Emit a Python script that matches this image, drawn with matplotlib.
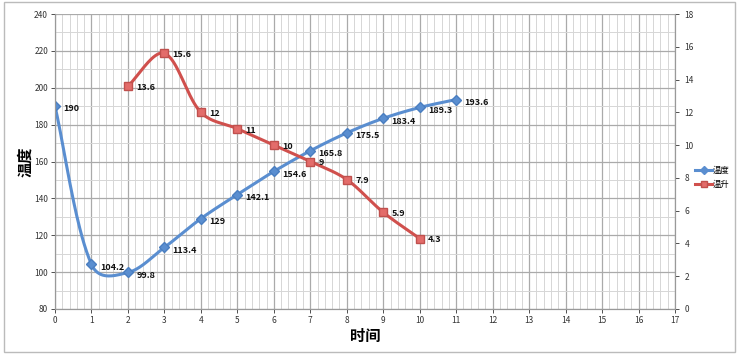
import numpy as np
import matplotlib
matplotlib.use("Agg")
import matplotlib.pyplot as plt
from matplotlib.lines import Line2D
from matplotlib.patches import Rectangle

plt.rcParams['font.family'] = ['Noto Sans CJK SC', 'DejaVu Sans']

# data
temp_x = [0, 1, 2, 3, 4, 5, 6, 7, 8, 9, 10, 11]
temp_y = [190, 104.2, 99.8, 113.4, 129, 142.1, 154.6, 165.8, 175.5, 183.4, 189.3, 193.6]
rise_x = [2, 3, 4, 5, 6, 7, 8, 9, 10]
rise_y = [13.6, 15.6, 12, 11, 10, 9, 7.9, 5.9, 4.3]
temp_name = "温度"
rise_name = "温升"
x_label = "时间"
y_label = "温度"

BLUE = "#5A8ED0"
RED = "#D0504D"


def smooth(xs, ys, sx, sy, n=40, mix=0.4):
    """Excel-like smoothing: Bezier with tangent (P[i+1]-P[i-1]), control distance a blend of
    uniform Catmull-Rom and chord-length scaling, computed in screen-proportional space."""
    P = np.column_stack([np.asarray(xs, float) * sx, np.asarray(ys, float) * sy])
    m = len(P)
    out = []
    t = np.linspace(0, 1, n)[:, None]
    for i in range(m - 1):
        p1, p2 = P[i], P[i + 1]
        p0 = P[i - 1] if i > 0 else p1
        p3 = P[i + 2] if i + 2 < m else p2
        d01 = np.linalg.norm(p1 - p0)
        d12 = np.linalg.norm(p2 - p1)
        d23 = np.linalg.norm(p3 - p2)
        f1 = d12 / (d01 + d12) if (d01 + d12) > 0 else 0
        f2 = d12 / (d12 + d23) if (d12 + d23) > 0 else 0
        f1 = mix * 0.5 + (1 - mix) * f1
        f2 = mix * 0.5 + (1 - mix) * f2
        c1 = p1 + (p2 - p0) * f1 / 3
        c2 = p2 - (p3 - p1) * f2 / 3
        seg = ((1 - t) ** 3) * p1 + 3 * ((1 - t) ** 2) * t * c1 + 3 * (1 - t) * t ** 2 * c2 + t ** 3 * p2
        out.append(seg if i == 0 else seg[1:])
    a = np.vstack(out)
    return a[:, 0] / sx, a[:, 1] / sy


fig = plt.figure(figsize=(7.39, 3.55), dpi=100)
fig.patches.append(Rectangle((0.005, 0.008), 0.99, 0.985, transform=fig.transFigure,
                             fill=False, edgecolor="#BBBBBB", linewidth=1.0))
ax = fig.add_axes([55 / 739, 1 - 309 / 355, 620 / 739, 295 / 355])
ax2 = ax.twinx()

ax.set_xlim(0, 17)
ax.set_ylim(80, 240)
ax2.set_ylim(0, 18)
ax.set_xticks(range(0, 18))
ax.set_xticks(np.arange(0, 17.01, 0.2), minor=True)
ax.set_yticks(range(80, 241, 20))
ax.set_yticks(range(80, 241, 10), minor=True)
ax2.set_yticks(range(0, 19, 2))

ax.grid(which='major', color="#AAAAAA", linewidth=0.9)
ax.grid(which='minor', color="#D6D6D6", linewidth=0.7)
ax.set_axisbelow(True)
ax.tick_params(axis='both', which='minor', length=0)
ax.tick_params(axis='both', which='major', labelsize=6, colors="#333333", length=3, width=0.6,
               pad=2)
ax2.tick_params(axis='y', labelsize=6, colors="#333333", length=3, width=0.6, pad=4)
for a in (ax, ax2):
    for s in a.spines.values():
        s.set_color("#999999")
        s.set_linewidth(0.8)
    a.spines['top'].set_visible(False)

ax.set_xlabel(x_label, fontsize=11, fontweight='bold', labelpad=2)
ax.set_ylabel(y_label, fontsize=11, fontweight='bold', labelpad=1)

pxx = 620 / 17
pxl = 295 / 160
pxr = 295 / 18

sx, sy = smooth(temp_x, temp_y, pxx, pxl)
ax.plot(sx, sy, color=BLUE, linewidth=2.2, zorder=3)
ax.plot(temp_x, temp_y, linestyle='none', marker='D', markersize=5, color=BLUE,
        markeredgecolor="#4A7EC0", zorder=4)
for x, y in zip(temp_x, temp_y):
    ax.annotate(f"{y:g}", (x, y), xytext=(6, -2), textcoords='offset points', fontsize=6.5,
                fontweight='bold', va='center', ha='left', color="#111111", zorder=5)

rx, ry = smooth(rise_x, rise_y, pxx, pxr)
ax2.plot(rx, ry, color=RED, linewidth=2.2, zorder=3)
ax2.plot(rise_x, rise_y, linestyle='none', marker='s', markersize=6, color="#E36C6A",
         markeredgecolor="#C0504D", zorder=4)
for x, y in zip(rise_x, rise_y):
    ax2.annotate(f"{y:g}", (x, y), xytext=(6, -1), textcoords='offset points', fontsize=6.5,
                 fontweight='bold', va='center', ha='left', color="#111111", zorder=5)

handles = [Line2D([], [], color=BLUE, linewidth=2.2, marker='D', markersize=4),
           Line2D([], [], color=RED, linewidth=2.2, marker='s', markersize=5,
                  markerfacecolor="#E36C6A", markeredgecolor="#C0504D")]
fig.legend(handles, [temp_name, rise_name], loc='center left', bbox_to_anchor=(692 / 739, 1 - 177 / 355),
           frameon=False, fontsize=6, handlelength=2.0, handletextpad=0.1, labelspacing=0.6,
           borderaxespad=0)

fig.savefig("out.png", dpi=100)
